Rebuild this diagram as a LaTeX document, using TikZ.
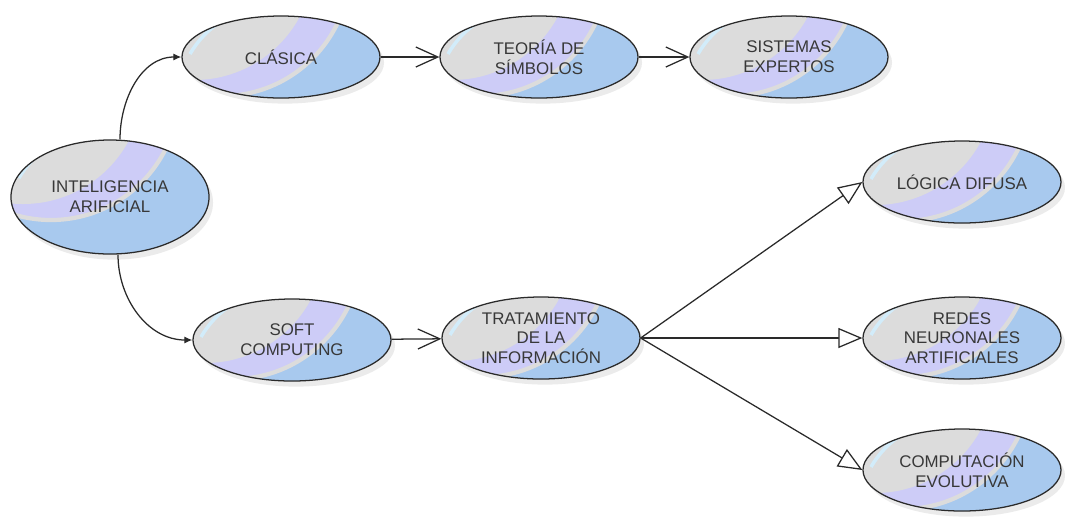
\documentclass[tikz,border=0pt]{standalone}
\usepackage{fontspec}
\setmainfont{Liberation Sans}
\usepackage{tikz}
\usetikzlibrary{positioning}
\usetikzlibrary{shapes.geometric}
\usetikzlibrary{arrows.meta}
\usetikzlibrary{shadows}

\definecolor{fillblue}{HTML}{A8C9EE}
\definecolor{fillviolet}{HTML}{CDCCF7}
\definecolor{fillgray}{HTML}{DCDCDC}
\definecolor{fillcyan}{HTML}{D2ECFA}
\definecolor{textgray}{HTML}{383838}
\definecolor{linegray}{HTML}{2A2A2A}

\tikzset{
  bubble/.style={draw=linegray, line width=0.9pt, ellipse, inner sep=0pt,
    minimum width=4.95cm, minimum height=2.05cm, align=center,
    text=textgray, font=\fontsize{12}{14}\selectfont, fill=fillblue,
    drop shadow={shadow xshift=0.1cm, shadow yshift=-0.14cm, fill=black!20, opacity=0.4},
    path picture={
      \fill[fillviolet, draw=fillgray, line width=3pt] ([xshift=1.0cm,yshift=1.2cm]path picture bounding box.north west) circle (3.2cm);
      \fill[fillgray] ([xshift=0.3cm,yshift=1.4cm]path picture bounding box.north west) circle (3.0cm);
      \draw[fillcyan, line width=2.5pt] ([xshift=0.2cm,yshift=-0.95cm]path picture bounding box.north west) arc[start angle=150, end angle=95, radius=2.4cm];
    }},
  bigbubble/.style={bubble, minimum height=2.85cm},
  link/.style={draw=linegray, line width=0.9pt},
  curvelink/.style={link, -{Latex[length=2mm,width=1.8mm]}},
  barblink/.style={link, -{Straight Barb[length=5.5mm,width=5mm]}},
  trilink/.style={link, -{Triangle[open,length=6mm,width=5mm,fill=white]}}
}

\begin{document}
\begin{tikzpicture}[x=0.025cm, y=-0.025cm]
  \useasboundingbox (0,0) rectangle (1065,516);

  % Nodes
  \node at (110,197) (ia) [bigbubble] {INTELIGENCIA\\ARIFICIAL};
  \node at (281,57) (clasica) [bubble] {CLÁSICA};
  \node at (539,57) (teoria) [bubble] {TEORÍA DE\\SÍMBOLOS};
  \node at (789,57) (sistemas) [bubble] {SISTEMAS\\EXPERTOS};
  \node at (292,340) (soft) [bubble] {SOFT\\COMPUTING};
  \node at (541,338) (trat) [bubble] {TRATAMIENTO\\DE LA\\INFORMACIÓN};
  \node at (962,182) (logica) [bubble] {LÓGICA DIFUSA};
  \node at (962,338) (redes) [bubble] {REDES\\NEURONALES\\ARTIFICIALES};
  \node at (962,470) (evol) [bubble] {COMPUTACIÓN\\EVOLUTIVA};

  % Arrows
  \draw[curvelink] ([xshift=0.25cm]ia.north) to[out=90, in=180] (clasica.west);
  \draw[curvelink] ([xshift=0.2cm]ia.south) to[out=-90, in=180] (soft.west);
  \draw[barblink] (clasica) -- (teoria);
  \draw[barblink] (teoria) -- (sistemas);
  \draw[barblink] (soft) -- (trat);
  \draw[trilink] (trat.east) -- (logica.west);
  \draw[trilink] (trat.east) -- (redes.west);
  \draw[trilink] (trat.east) -- (evol.west);

\end{tikzpicture}
\end{document}
